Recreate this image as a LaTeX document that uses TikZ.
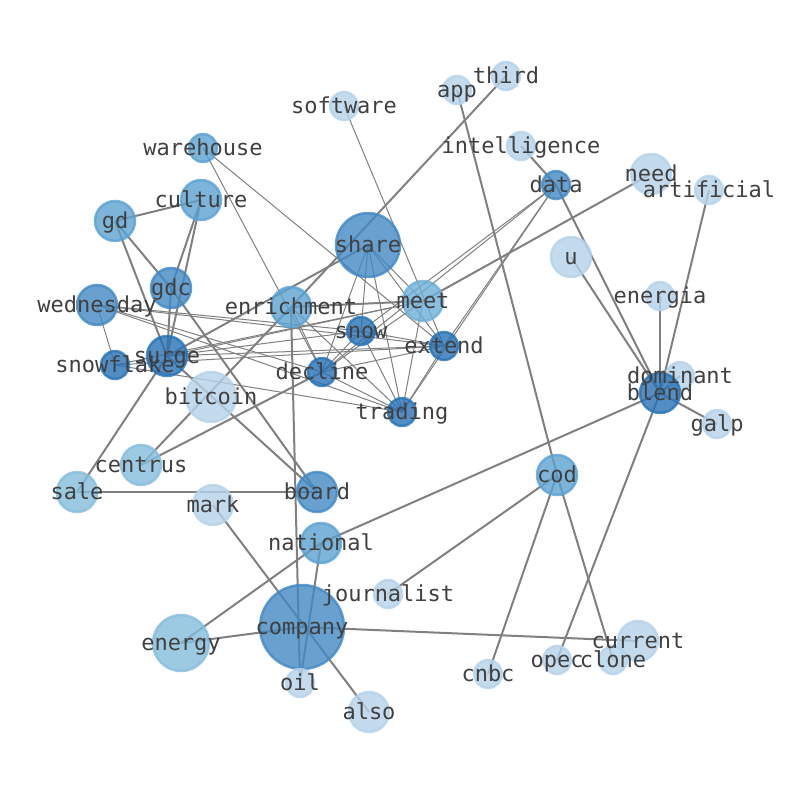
\documentclass[tikz,border=0pt]{standalone}
\usepackage{fontspec}
\setmonofont{DejaVu Sans Mono}
\pgfdeclarelayer{bg}
\pgfsetlayers{bg,main}
\definecolor{cA}{RGB}{181,210,233}
\definecolor{cB}{RGB}{133,189,220}
\definecolor{cM}{RGB}{110,175,215}
\definecolor{cC}{RGB}{91,161,209}
\definecolor{cD}{RGB}{66,136,195}
\definecolor{cE}{RGB}{39,114,181}
\definecolor{edgec}{RGB}{128,128,128}
\definecolor{txt}{RGB}{64,64,64}
\tikzset{
  nd/.style={circle,inner sep=0pt,outer sep=0pt,fill opacity=0.8,draw opacity=0.8,line width=2.5pt},
  rs/.style={minimum size=28pt},
  rm/.style={minimum size=40pt},
  na/.style={nd,fill=cA,draw=cA},
  nb/.style={nd,fill=cB,draw=cB},
  nm/.style={nd,fill=cM,draw=cM},
  nc/.style={nd,fill=cC,draw=cC},
  ndk/.style={nd,fill=cD,draw=cD},
  ne/.style={nd,fill=cE,draw=cE},
  lbl/.style={inner sep=0pt,text=txt,font=\fontsize{22}{22}\selectfont\ttfamily,text height=18.5pt,text depth=3.5pt},
  thick edge/.style={draw=edgec,line width=2pt},
  thin edge/.style={draw=edgec,line width=1pt},
}
\begin{document}
\begin{tikzpicture}[x=1pt,y=-1pt]
\useasboundingbox (0,0) rectangle (794,790);
% nodes
\node[na,rs] (third) at (506,76) {};
\node[na,rs] (app) at (457,90) {};
\node[na,rs] (software) at (344,106) {};
\node[nc,rs] (warehouse) at (203,148) {};
\node[na,rs] (intelligence) at (521,146) {};
\node[ndk,rs] (data) at (556,185) {};
\node[na,rm] (need) at (651,174) {};
\node[na,rs] (artificial) at (709,190) {};
\node[nc,rm] (culture) at (201,200) {};
\node[nc,rm] (gd) at (115,221) {};
\node[ndk,minimum size=64pt] (share) at (368,245) {};
\node[na,rm] (u) at (571,257) {};
\node[ndk,rm] (gdc) at (171,288) {};
\node[nc,rm] (enrichment) at (291,307) {};
\node[nm,rm] (meet) at (423,301) {};
\node[na,rs] (energia) at (660,296) {};
\node[ndk,rm] (wednesday) at (97,305) {};
\node[ne,rs] (snow) at (361,331) {};
\node[ne,rs] (extend) at (444,346) {};
\node[ne,rs] (snowflake) at (115,365) {};
\node[ne,rm] (surge) at (167,356) {};
\node[ne,rs] (decline) at (322,372) {};
\node[na,rs] (dominant) at (680,376) {};
\node[ne,rm] (blend) at (660,393) {};
\node[na,minimum size=50pt] (bitcoin) at (211,397) {};
\node[ne,rs] (trading) at (402,412) {};
\node[na,rs] (galp) at (717,424) {};
\node[nb,rm] (centrus) at (141,465) {};
\node[nb,rm] (sale) at (77,492) {};
\node[ndk,rm] (board) at (317,492) {};
\node[nc,rm] (cod) at (557,475) {};
\node[na,rm] (mark) at (213,505) {};
\node[nc,rm] (national) at (321,543) {};
\node[na,rs] (journalist) at (388,594) {};
\node[ndk,minimum size=84pt] (company) at (302,627) {};
\node[nb,minimum size=56pt] (energy) at (181,643) {};
\node[na,rm] (current) at (638,641) {};
\node[na,rs] (opec) at (557,660) {};
\node[na,rs] (clone) at (613,660) {};
\node[na,rs] (cnbc) at (488,674) {};
\node[na,rs] (oil) at (300,683) {};
\node[na,rm] (also) at (369,712) {};
% edges
\begin{pgfonlayer}{bg}
\foreach \a/\b in {third/enrichment,app/cod,cod/clone,cod/cnbc,cod/journalist,intelligence/data,data/blend,u/blend,need/meet,artificial/blend,energia/blend,dominant/blend,galp/blend,blend/national,blend/opec,company/energy,company/current,national/energy,national/oil,enrichment/oil,mark/also,sale/board,sale/surge,centrus/enrichment,centrus/decline,surge/board,gdc/board,gd/gdc,gd/culture,gd/surge,culture/gdc,culture/surge,gdc/surge,surge/share,enrichment/meet}
  \draw[thick edge] (\a.center) -- (\b.center);
\foreach \a/\b in {software/extend,warehouse/decline,warehouse/extend,wednesday/snowflake,wednesday/snow,wednesday/extend,wednesday/trading,wednesday/decline,snowflake/meet,snowflake/extend,snowflake/trading,surge/meet,surge/snow,surge/extend,data/snow,data/decline,data/extend,data/trading,share/snow,share/decline,share/trading,share/extend,share/meet,meet/trading,meet/decline,snow/trading,snow/decline,snow/extend,enrichment/decline,enrichment/trading,decline/trading,extend/decline,extend/trading}
  \draw[thin edge] (\a.center) -- (\b.center);
\end{pgfonlayer}
% labels
\foreach \n in {third,app,software,warehouse,intelligence,data,need,artificial,culture,gd,share,u,gdc,enrichment,meet,energia,wednesday,snow,extend,snowflake,surge,decline,dominant,blend,bitcoin,trading,galp,centrus,sale,board,cod,mark,national,journalist,company,energy,current,opec,clone,cnbc,oil,also}
  \node[lbl] (\n-l) at (\n) {\n};
\end{tikzpicture}
\end{document}
